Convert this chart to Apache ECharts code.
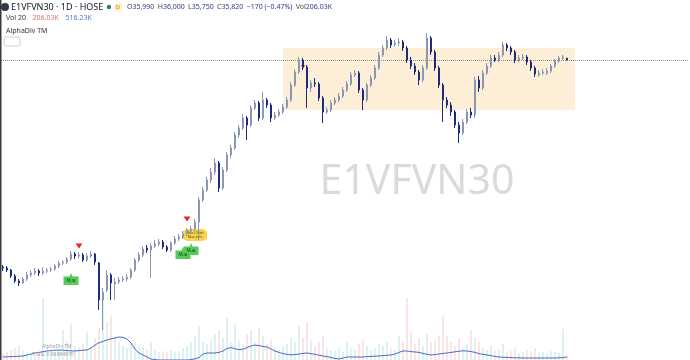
<!DOCTYPE html>
<html>
<head>
<meta charset="utf-8">
<script src="https://cdn.jsdelivr.net/npm/echarts@6/dist/echarts.min.js"></script>
<style>
html,body{margin:0;padding:0;background:#fff}
#chart{width:690px;height:360px}
</style>
</head>
<body>
<div id="chart"></div>
<script>
// gia E1VFVN30, moi nen: [open, close, low, high]
var candles = [
  [15100,15000,14700,15300],[15000,14800,14600,15200],[14800,14200,14000,14900],[14200,13700,13500,14400],
  [13700,13500,13200,13900],[13500,13900,13400,14100],[13900,14300,13700,14600],[14300,14500,14100,14800],
  [14500,14700,14300,15000],[14700,14500,14200,14900],[14500,14700,14300,15100],[14700,14800,14500,15000],
  [14800,14900,14600,15100],[14900,15200,14700,15400],[15200,15500,15000,15700],[15500,15600,15300,15800],
  [15600,15900,15400,16100],[15900,16400,15700,16700],[16400,16200,15900,16600],[16200,16300,16000,16600],
  [16300,15800,15600,16500],[15800,16200,15600,16500],[16200,16400,16000,16700],[16400,15600,15300,16500],
  [15500,11800,10800,15600],[11800,12600,8800,13000],[12800,14300,12600,14800],[14300,13500,11800,14500],
  [13400,13600,11800,14000],[13600,13800,13400,14100],[13800,13900,13600,14200],[13900,14100,13700,14400],
  [14100,14800,13900,15000],[14800,15800,14600,16000],[15800,16300,15600,16600],[16300,16900,16100,17200],
  [17000,16800,16500,17300],[16800,17200,14000,17500],[17200,17400,17000,17800],[17400,17600,17200,17900],
  [17600,17100,16900,17800],[17100,16800,16600,17300],[16800,17500,16600,17700],[17500,17900,17300,18200],
  [17900,18100,17700,18400],[18100,18400,17900,18700],[18400,18800,18200,19000],[18700,18900,18500,19200],
  [18900,19600,18700,19900],[19600,21800,17800,22100],[21800,22800,21600,23100],[22800,23800,22600,24100],
  [23800,24600,23500,25000],[24600,25500,24300,26000],[25500,23000,22600,25700],[23000,24800,22800,25100],
  [24800,26300,24600,26600],[26300,27000,26000,27300],[27000,28300,26800,28600],[28300,29000,28000,29300],
  [29000,30000,28800,30400],[30000,29300,27800,30200],[29300,31000,29100,31300],[31000,31500,30800,31800],
  [31500,30000,29700,31700],[30000,31800,29800,32600],[31800,31300,31000,32000],[31300,30000,29600,31500],
  [30000,30300,29800,30600],[30300,30600,30100,30900],[30600,31100,30400,31400],[31100,31800,30900,32100],
  [31800,33300,31600,33600],[33300,34600,33100,34900],[34600,35800,34400,36100],[35800,35100,34800,36000],
  [35100,33000,31000,35300],[33000,33500,32600,33800],[33500,33400,33100,34000],[33400,32000,31700,33600],
  [32000,30600,29500,32200],[30600,30800,30400,31100],[30800,31500,30600,31800],[31500,31800,31300,32100],
  [31800,32200,31600,32500],[32200,32800,32000,33100],[32800,33400,32600,33700],[33400,34300,33200,34600],
  [34300,34500,34100,34800],[34500,32800,32500,34700],[32800,31800,30800,33000],[31800,33300,31600,33500],
  [33300,34000,33100,34300],[34000,35000,33800,35300],[35000,36300,34800,36600],[36300,37000,36100,37300],
  [37000,37800,36800,38200],[37800,37300,37000,38000],[37300,37500,37100,37800],[37500,37600,37200,38000],
  [37600,37000,36700,37800],[37000,35800,35500,37200],[35800,35200,34900,36100],[35200,34600,34300,35500],
  [34600,33800,33300,34800],[33800,35000,33600,35300],[35000,38000,34800,38500],[38000,36600,36300,38200],
  [36600,35000,34700,36800],[35000,33300,33000,35200],[33300,31800,29600,33500],[31800,31300,31000,32100],
  [31300,30600,30200,31600],[30600,29300,29000,30800],[29300,28500,27500,29600],[28500,29600,28300,29900],
  [29600,30600,29400,30900],[30600,30300,30000,31000],[30300,33800,30000,34100],[33800,33000,32600,34200],
  [33000,34500,32800,34800],[34500,35200,34300,35500],[35200,36000,35000,36300],[36000,35800,35600,36300],
  [35800,36300,35600,36600],[36300,37300,36100,37600],[37300,37000,36700,37500],[37000,36600,36300,37200],
  [36600,35800,35500,36800],[35800,36000,35600,36300],[36000,36100,35800,36400],[36100,35600,35300,36300],
  [35600,35000,34700,35800],[35000,34400,34100,35200],[34300,34500,34100,34800],[34500,34600,34300,34900],
  [34500,34700,34300,35000],[34700,35200,34500,35400],[35200,35700,35000,35900],[35700,36000,35500,36200],
  [36000,36100,35800,36300],[35990,35820,35750,36000]
];

// khoi luong (nghin co phieu)
var volumes = [
  350,420,500,600,700,450,380,320,300,350,3100,600,450,400,520,1500,900,1800,700,650,
  800,1400,600,1100,1600,3000,1900,2200,1200,900,700,600,800,900,700,600,500,900,500,400,
  450,380,500,420,450,600,700,900,1200,1700,900,800,1000,1300,1500,1100,2100,900,1800,1000,
  800,1300,1500,900,1600,1200,800,1000,600,500,700,800,1100,900,1700,1100,1900,1000,700,900,
  1200,600,500,450,600,400,900,600,500,800,1000,700,500,600,800,700,900,600,500,1200,
  900,3100,1400,800,1100,700,1300,900,1000,1200,2200,1200,900,700,1100,600,800,1500,1100,900,
  600,500,700,450,500,800,400,450,600,350,400,500,450,600,350,400,300,450,400,350,
  1550,206
];

// duong AlphaDiv TM o khung duoi
var alphaDiv = [
  150,160,170,180,190,200,250,300,350,380,420,450,470,490,500,490,470,460,450,470,
  490,500,600,750,860,930,1000,1060,1100,1150,1130,1050,850,550,350,250,150,50,20,0,
  0,0,0,0,0,0,0,20,60,120,300,350,350,350,380,450,580,620,560,520,
  540,620,700,750,720,680,650,550,450,380,320,280,260,270,300,330,350,320,280,240,
  200,170,120,80,50,100,150,150,150,150,150,170,180,190,200,220,240,250,300,380,
  450,450,420,400,380,330,280,250,270,300,330,350,380,410,440,460,450,420,380,320,
  280,250,220,180,150,140,130,120,110,110,100,100,100,100,100,100,100,100,100,110,
  120,150
];

var totalSlots = 172;
var categories = [];
for (var i = 0; i < totalSlots; i++) {
  categories.push('D' + (i + 1));
}

var lastClose = 35820;
var boxTop = 37000, boxBottom = 30800;
var boxFrom = 70, boxTo = 143;

var upColor = '#8a97ae';
var downColor = '#1c2b80';

var volData = [];
for (var i = 0; i < volumes.length; i++) {
  var up = candles[i][1] >= candles[i][0];
  volData.push({
    value: volumes[i],
    itemStyle: { color: up ? 'rgba(120,200,195,0.42)' : 'rgba(236,150,150,0.42)' }
  });
}

var labelUp = 'path://M0,3 L4,3 L5,0 L6,3 L10,3 L10,10 L0,10 Z';

var myChart = echarts.init(document.getElementById('chart'), null, { renderer: 'canvas' });

var option = {
  animation: false,
  backgroundColor: '#ffffff',
  grid: [
    { left: 1, right: 1, top: 0, bottom: 0 },
    { left: 1, right: 1, top: 280, bottom: 0 }
  ],
  xAxis: [
    { type: 'category', data: categories, gridIndex: 0, show: false, boundaryGap: true },
    { type: 'category', data: categories, gridIndex: 1, show: false, boundaryGap: true }
  ],
  yAxis: [
    { type: 'value', gridIndex: 0, min: 5800, max: 41800, show: false, splitLine: { show: false } },
    { type: 'value', gridIndex: 1, min: 0, max: 4000, show: false, splitLine: { show: false } }
  ],
  graphic: [
    { type: 'rect', left: 0, top: 0, z: 100, shape: { width: 1.5, height: 360 }, style: { fill: '#3a3a3a' } },
    { type: 'circle', z: 100, shape: { cx: 5, cy: 7, r: 4 }, style: { fill: '#2e3a44' } },
    { type: 'text', z: 100, x: 11, y: 7, style: { text: 'E1VFVN30 · 1D · HOSE', fill: '#131722', font: '9px "Noto Sans"', textVerticalAlign: 'middle' } },
    { type: 'circle', z: 100, shape: { cx: 109, cy: 7, r: 2.2 }, style: { fill: '#1f8a5c' } },
    { type: 'circle', z: 100, shape: { cx: 118, cy: 7, r: 4.5 }, style: { fill: '#fff0d4' } },
    { type: 'text', z: 101, x: 118, y: 7, style: { text: 'D', fill: '#f5a01a', font: 'bold 6px "Noto Sans"', textAlign: 'center', textVerticalAlign: 'middle' } },
    { type: 'text', z: 100, x: 127, y: 7, style: {
        text: '{l|O}{v|35,990} {l|H}{v|36,000} {l|L}{v|35,750} {l|C}{v|35,820} {v|−170 (−0.47%)} {l|Vol}{v|206.03K}',
        textVerticalAlign: 'middle',
        rich: {
          l: { fill: '#444', font: '7px "Noto Sans"' },
          v: { fill: '#2a3a8c', font: '7px "Noto Sans"' }
        }
    } },
    { type: 'text', z: 100, x: 6, y: 18, style: {
        text: '{a|Vol 20}  {b|206.03K}  {c|516.23K}',
        textVerticalAlign: 'middle',
        rich: {
          a: { fill: '#333', font: '7px "Noto Sans"' },
          b: { fill: '#e06c6c', font: '7px "Noto Sans"' },
          c: { fill: '#5a78d0', font: '7px "Noto Sans"' }
        }
    } },
    { type: 'text', z: 100, x: 6, y: 31, style: { text: 'AlphaDiv TM', fill: '#333', font: '7px "Noto Sans"', textVerticalAlign: 'middle' } },
    { type: 'rect', z: 100, shape: { x: 4, y: 37, width: 16, height: 9, r: 2 }, style: { fill: '#fff', stroke: '#d0d0d0', lineWidth: 1 } },
    { type: 'text', z: 0, x: 417, y: 182, style: { text: 'E1VFVN30', fill: '#dadada', font: '41px "Noto Sans"', textAlign: 'center', textVerticalAlign: 'middle' } },
    { type: 'text', z: 100, x: 42, y: 347, style: { text: 'AlphaDiv TM', fill: '#a0a0a0', font: '5px "Noto Sans"', textVerticalAlign: 'middle' } },
    { type: 'text', z: 100, x: 32, y: 355, style: { text: 'T SIG: 0.96994970', fill: '#a0a0a0', font: '5px "Noto Sans"', textVerticalAlign: 'middle' } }
  ],
  series: [
    {
      name: 'box',
      type: 'line',
      xAxisIndex: 0,
      yAxisIndex: 0,
      data: [],
      z: 1,
      markArea: {
        silent: true,
        itemStyle: { color: '#fdeed7' },
        data: [[{ xAxis: boxFrom, yAxis: boxTop }, { xAxis: boxTo, yAxis: boxBottom }]]
      }
    },
    {
      name: 'Vol',
      type: 'bar',
      xAxisIndex: 1,
      yAxisIndex: 1,
      data: volData,
      barWidth: 1.2,
      z: 2
    },
    {
      name: 'AlphaDiv TM',
      type: 'line',
      xAxisIndex: 1,
      yAxisIndex: 1,
      data: alphaDiv,
      symbol: 'none',
      lineStyle: { color: '#4d6cc0', width: 1 },
      z: 3
    },
    {
      name: 'E1VFVN30',
      type: 'candlestick',
      xAxisIndex: 0,
      yAxisIndex: 0,
      data: candles,
      barMaxWidth: 3,
      z: 5,
      itemStyle: {
        color: upColor,
        color0: downColor,
        borderColor: upColor,
        borderColor0: downColor,
        borderWidth: 1
      },
      markLine: {
        silent: true,
        symbol: 'none',
        label: { show: false },
        lineStyle: { color: '#8c8c8c', type: 'dotted', width: 1 },
        data: [{ yAxis: lastClose }]
      },
      markPoint: {
        silent: true,
        data: [
          { coord: [19, 17200], symbol: 'triangle', symbolRotate: 180, symbolSize: [7, 5], itemStyle: { color: '#e2262b' }, label: { show: false } },
          { coord: [46, 19900], symbol: 'triangle', symbolRotate: 180, symbolSize: [7, 5], itemStyle: { color: '#e2262b' }, label: { show: false } },
          { coord: [75, 35100], symbol: 'triangle', symbolRotate: 180, symbolSize: [4, 4], itemStyle: { color: '#e2262b' }, label: { show: false } },
          { coord: [17, 13900], symbol: labelUp, symbolKeepAspect: false, symbolSize: [15, 12], itemStyle: { color: '#55cc55' }, label: { show: true, formatter: 'Mua', fontSize: 4.5, color: '#1b4d1b', offset: [0, 1.5] } },
          { coord: [45, 16500], symbol: labelUp, symbolKeepAspect: false, symbolSize: [15, 12], itemStyle: { color: '#55cc55' }, label: { show: true, formatter: 'Mua', fontSize: 4.5, color: '#1b4d1b', offset: [0, 1.5] } },
          { coord: [47, 16900], symbol: labelUp, symbolKeepAspect: false, symbolSize: [15, 12], itemStyle: { color: '#55cc55' }, label: { show: true, formatter: 'Mua', fontSize: 4.5, color: '#1b4d1b', offset: [0, 1.5] } },
          { coord: [48, 18300], symbol: 'roundRect', symbolSize: [24, 12], itemStyle: { color: '#f7d44a' }, label: { show: true, formatter: 'Mua Chính\nMua sớm', fontSize: 3.5, lineHeight: 4.5, color: '#5a4a10' } }
        ]
      }
    }
  ]
};

myChart.setOption(option);
</script>
</body>
</html>
